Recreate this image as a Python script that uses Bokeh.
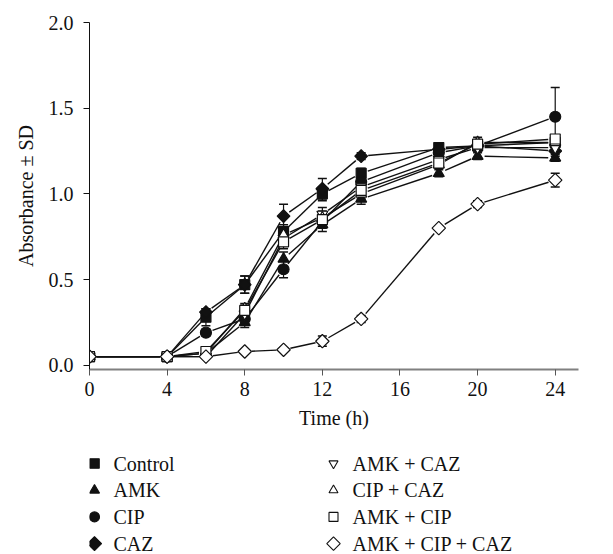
import math
from bokeh.plotting import figure
from bokeh.layouts import column
from bokeh.models import (ColumnDataSource, Whisker, TeeHead, FixedTicker,
                          NumeralTickFormatter, Range1d)
from bokeh.core.properties import value
from bokeh.embed import file_html
from bokeh.resources import INLINE

time = [0, 4, 6, 8, 10, 12, 14, 18, 20, 24]
control = [0.05, 0.05, 0.28, 0.47, 0.78, 1.00, 1.12, 1.27, 1.28, 1.30]
control_sd = [0.01, 0.01, 0.05, 0.05, 0.04, 0.04, 0.03, 0.02, 0.02, 0.03]
amk = [0.05, 0.05, 0.07, 0.25, 0.62, 0.82, 0.97, 1.12, 1.22, 1.21]
amk_sd = [0.01, 0.01, 0.02, 0.03, 0.04, 0.04, 0.03, 0.02, 0.02, 0.02]
cip = [0.05, 0.05, 0.19, 0.27, 0.56, 0.84, 1.07, 1.24, 1.28, 1.45]
cip_sd = [0.01, 0.01, 0.02, 0.03, 0.05, 0.04, 0.03, 0.02, 0.03, 0.17]
caz = [0.05, 0.05, 0.31, 0.47, 0.87, 1.03, 1.22, 1.26, 1.28, 1.25]
caz_sd = [0.01, 0.01, 0.02, 0.05, 0.07, 0.06, 0.02, 0.02, 0.02, 0.03]
amk_caz = [0.05, 0.05, 0.05, 0.30, 0.74, 0.88, 1.04, 1.20, 1.27, 1.27]
amk_caz_sd = [0.01, 0.01, 0.01, 0.03, 0.04, 0.04, 0.03, 0.02, 0.02, 0.02]
cip_caz = [0.05, 0.05, 0.07, 0.33, 0.76, 0.86, 1.00, 1.17, 1.30, 1.30]
cip_caz_sd = [0.01, 0.01, 0.01, 0.03, 0.04, 0.04, 0.03, 0.02, 0.03, 0.02]
amk_cip = [0.05, 0.05, 0.08, 0.32, 0.72, 0.85, 1.02, 1.18, 1.29, 1.32]
amk_cip_sd = [0.01, 0.01, 0.01, 0.03, 0.04, 0.04, 0.03, 0.02, 0.02, 0.02]
triple = [0.05, 0.05, 0.05, 0.08, 0.09, 0.14, 0.27, 0.80, 0.94, 1.08]
triple_sd = [0.01, 0.01, 0.01, 0.01, 0.01, 0.03, 0.02, 0.01, 0.02, 0.04]

labels = ["Control", "AMK", "CIP", "CAZ", "AMK + CAZ", "CIP + CAZ", "AMK + CIP", "AMK + CIP + CAZ"]
values = [control, amk, cip, caz, amk_caz, cip_caz, amk_cip, triple]
sds = [control_sd, amk_sd, cip_sd, caz_sd, amk_caz_sd, cip_caz_sd, amk_cip_sd, triple_sd]

# marker styles (diamonds are squares turned by 45 degrees)
markers = ["square", "triangle", "circle", "square", "inverted_triangle", "triangle", "square", "square"]
angles = [0, 0, 0, math.pi / 4, 0, 0, 0, math.pi / 4]
filled = [True, True, True, True, False, False, False, False]
msize = [10, 11, 11, 9, 11, 11, 10, 9.5]
lsize = [9.5, 10, 10, 10, 9, 9, 9, 9.5]

FONT = "Liberation Serif"
FS = "20px"
X0, X1, Y0, Y1 = 0, 25.2, -0.025, 2.0
W, H = 613, 554
TOP, FH = 22, 347           # frame top and height (px)
LEFT, RIGHT = 89, 35        # borders (px)
FW = W - LEFT - RIGHT
H1 = 433                    # chart figure height
H2 = H - H1                 # legend strip height
PX = FW / (X1 - X0)         # px per hour
PY = FH / (Y1 - Y0)         # px per absorbance unit
GAP = 7                     # px gap between line ends and markers
INK = "#111111"


def gapped(xv, yv):
    xs, ys = [], []
    for i in range(len(xv) - 1):
        dx = (xv[i + 1] - xv[i]) * PX
        dy = (yv[i + 1] - yv[i]) * PY
        d = math.hypot(dx, dy)
        if d <= 2 * GAP + 1:
            continue
        f = GAP / d
        xs.append([xv[i] + (xv[i + 1] - xv[i]) * f, xv[i + 1] - (xv[i + 1] - xv[i]) * f])
        ys.append([yv[i] + (yv[i + 1] - yv[i]) * f, yv[i + 1] - (yv[i + 1] - yv[i]) * f])
    return xs, ys


p = figure(width=W, height=H1, output_backend="svg", toolbar_location=None,
           x_range=Range1d(X0, X1), y_range=Range1d(Y0, Y1),
           min_border_left=LEFT, min_border_right=RIGHT, min_border_top=TOP,
           min_border_bottom=H1 - TOP - FH)
p.outline_line_color = None
p.xgrid.visible = False
p.ygrid.visible = False

p.xaxis.ticker = FixedTicker(ticks=[0, 4, 8, 12, 16, 20, 24])
p.yaxis.ticker = FixedTicker(ticks=[0, 0.5, 1.0, 1.5, 2.0])
p.yaxis.formatter = NumeralTickFormatter(format="0.0")
p.xaxis.axis_label = "Time (h)"
p.yaxis.axis_label = "Absorbance \u00b1 SD"
for ax in (p.xaxis[0], p.yaxis[0]):
    ax.axis_label_text_font = FONT
    ax.axis_label_text_font_style = "normal"
    ax.axis_label_text_font_size = FS
    ax.major_label_text_font = FONT
    ax.major_label_text_font_size = FS
    ax.major_label_text_color = INK
    ax.axis_label_text_color = INK
    ax.minor_tick_line_color = None
    ax.major_tick_in = 0
    ax.major_tick_out = 6
p.xaxis.axis_line_color = "#808080"
p.xaxis.axis_line_width = 2
p.xaxis.major_tick_line_color = "#555555"
p.xaxis.major_label_standoff = 6
p.xaxis.axis_label_standoff = 8
p.yaxis.axis_line_color = INK
p.yaxis.major_tick_line_color = INK
p.yaxis.major_label_standoff = 10
p.yaxis.axis_label_standoff = 9

for v, sd, mk, ang, fl, ms in zip(values, sds, markers, angles, filled, msize):
    src = ColumnDataSource(dict(x=time, y=v,
                                lo=[a - b for a, b in zip(v, sd)],
                                hi=[a + b for a, b in zip(v, sd)]))
    gx, gy = gapped(time, v)
    p.multi_line(xs=gx, ys=gy, line_color=INK, line_width=1.4)
    w = Whisker(source=src, base="x", lower="lo", upper="hi", line_color=INK, line_width=1.2,
                upper_head=TeeHead(size=9, line_color=INK, line_width=1.5),
                lower_head=TeeHead(size=9, line_color=INK, line_width=1.5))
    p.add_layout(w)
    p.scatter("x", "y", source=src, size=ms, marker=mk, angle=ang,
              fill_color=INK if fl else "white", line_color=INK, line_width=1.2)

# legend strip below the chart (screen-pixel coordinates; frame aligned with chart frame)
lf = figure(width=W, height=H2, output_backend="svg", toolbar_location=None,
            x_range=Range1d(LEFT, W - RIGHT), y_range=Range1d(H, H1),
            x_axis_location=None, y_axis_location=None,
            min_border_left=LEFT, min_border_right=RIGHT, min_border_top=0, min_border_bottom=0)
lf.outline_line_color = None
lf.xgrid.visible = False
lf.ygrid.visible = False

COL_X = [94, 333]           # key centre of each legend column
ROW_Y0, ROW_DY = 463, 26.7  # first row centre and row pitch
TXT_DX = 19
for i, (lab, mk, ang, fl, ls) in enumerate(zip(labels, markers, angles, filled, lsize)):
    cx = COL_X[i // 4]
    cy = ROW_Y0 + (i % 4) * ROW_DY
    lf.scatter(x=[cx], y=[cy], size=ls, marker=mk, angle=ang,
               fill_color=INK if fl else "white", line_color=INK, line_width=1.1)
    lf.text(x=[cx + TXT_DX], y=[cy], text=[lab], text_font=value(FONT), text_font_size=FS,
            text_baseline="middle", text_align="left", text_color=INK)

layout = column(p, lf, spacing=0)
open("out.html", "w").write(file_html(layout, INLINE))
